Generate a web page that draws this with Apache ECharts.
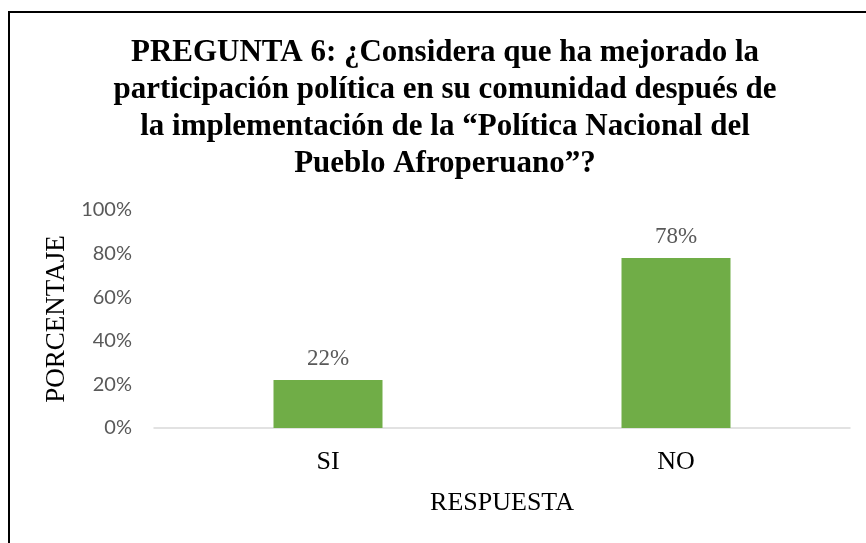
<!DOCTYPE html>
<html>
<head>
<meta charset="utf-8">
<script src="https://cdn.jsdelivr.net/npm/echarts@6/dist/echarts.min.js"></script>
<style>
  html, body { margin: 0; padding: 0; background: #fff; }
  #chart-container { width: 866px; height: 543px; }
</style>
</head>
<body>
<div id="chart-container"></div>
<script>
// data
const categories = ['SI', 'NO'];
const values = [22, 78];
const yTicks = [0, 20, 40, 60, 80, 100];

const titleText = 'PREGUNTA 6: ¿Considera que ha mejorado la\n' +
  'participación política en su comunidad después de\n' +
  'la implementación de la “Política Nacional del\n' +
  'Pueblo Afroperuano”?';

const chart = echarts.init(document.getElementById('chart-container'), null, { renderer: 'canvas' });

const option = {
  animation: false,
  backgroundColor: '#fff',
  title: {
    text: titleText,
    left: 440,
    top: 29,
    textAlign: 'center',
    textStyle: {
      fontFamily: 'Liberation Serif',
      fontWeight: 'bold',
      fontSize: 31,
      lineHeight: 37,
      color: '#000'
    }
  },
  // outer frame of the original figure
  graphic: [{
    type: 'rect',
    shape: { x: 9, y: 12, width: 900, height: 600 },
    style: { fill: 'none', stroke: '#000', lineWidth: 2 },
    silent: true
  }],
  grid: { left: 154, right: 16, top: 210, bottom: 115 },
  xAxis: {
    type: 'category',
    data: categories,
    name: 'RESPUESTA',
    nameLocation: 'middle',
    nameGap: 62,
    nameTextStyle: { fontFamily: 'Liberation Serif', fontSize: 26, color: '#000' },
    axisLine: { lineStyle: { color: '#d9d9d9', width: 1.5 } },
    axisTick: { show: false },
    axisLabel: { fontFamily: 'Liberation Serif', fontSize: 26, color: '#000', margin: 21 }
  },
  yAxis: {
    type: 'value',
    min: yTicks[0],
    max: yTicks[yTicks.length - 1],
    interval: 20,
    name: 'PORCENTAJE',
    nameLocation: 'middle',
    nameGap: 82,
    nameTextStyle: { fontFamily: 'Liberation Serif', fontSize: 27, color: '#000' },
    axisLine: { show: false },
    axisTick: { show: false },
    splitLine: { show: false },
    axisLabel: {
      fontFamily: 'Lato',
      fontSize: 20,
      color: '#595959',
      margin: 22,
      formatter: '{value}%'
    }
  },
  series: [{
    type: 'bar',
    data: values,
    barWidth: 109,
    itemStyle: { color: '#70ad47' },
    label: {
      show: true,
      position: 'top',
      distance: 10,
      formatter: '{c}%',
      fontFamily: 'Liberation Serif',
      fontSize: 23,
      color: '#595959'
    }
  }]
};

chart.setOption(option);
</script>
</body>
</html>
